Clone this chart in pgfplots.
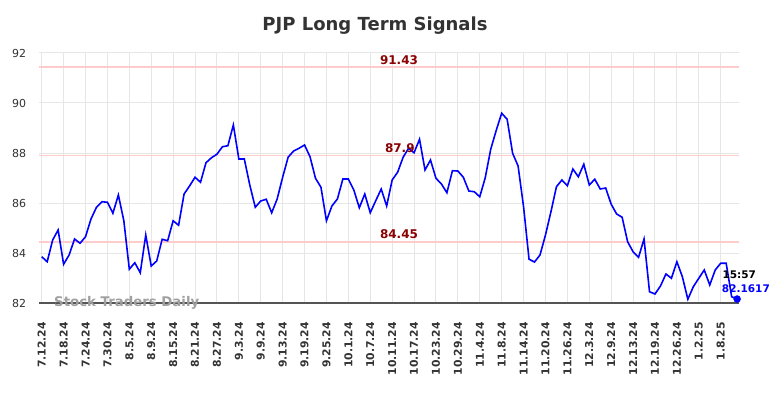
\documentclass[border=0pt]{standalone}
\usepackage{pgfplots}
\pgfplotsset{compat=1.18}
\usepackage{pgfplotstable}
\usepackage{fontspec}
\setmainfont{DejaVu Sans}
\definecolor{titlegray}{HTML}{333333}
\definecolor{gridgray}{HTML}{E6E6E6}
\definecolor{axisgray}{HTML}{555555}
\definecolor{hlinecol}{HTML}{FFCCCC}
\definecolor{darkred}{HTML}{8B0000}
\definecolor{wm}{HTML}{A0A0A0}
\pgfplotstableread{
i v
0 83.85
1 83.65
2 84.52
3 84.92
4 83.55
5 83.92
6 84.56
7 84.39
8 84.65
9 85.36
10 85.83
11 86.05
12 86.03
13 85.59
14 86.32
15 85.29
16 83.35
17 83.61
18 83.21
19 84.72
20 83.48
21 83.68
22 84.55
23 84.49
24 85.29
25 85.11
26 86.36
27 86.68
28 87.03
29 86.83
30 87.61
31 87.81
32 87.95
33 88.25
34 88.29
35 89.12
36 87.76
37 87.76
38 86.72
39 85.83
40 86.08
41 86.15
42 85.61
43 86.16
44 87.03
45 87.83
46 88.08
47 88.19
48 88.32
49 87.85
50 86.99
51 86.63
52 85.29
53 85.88
54 86.16
55 86.96
56 86.96
57 86.52
58 85.81
59 86.36
60 85.61
61 86.09
62 86.56
63 85.88
64 86.92
65 87.23
66 87.83
67 88.19
68 88.01
69 88.55
70 87.32
71 87.72
72 86.99
73 86.76
74 86.41
75 87.29
76 87.28
77 87.03
78 86.48
79 86.45
80 86.25
81 87.01
82 88.15
83 88.90
84 89.59
85 89.35
86 87.99
87 87.48
88 85.85
89 83.75
90 83.64
91 83.92
92 84.72
93 85.65
94 86.65
95 86.92
96 86.69
97 87.36
98 87.05
99 87.55
100 86.72
101 86.95
102 86.56
103 86.60
104 85.95
105 85.56
106 85.43
107 84.45
108 84.05
109 83.83
110 84.56
111 82.45
112 82.36
113 82.68
114 83.16
115 82.99
116 83.65
117 83.05
118 82.15
119 82.65
120 82.99
121 83.32
122 82.72
123 83.32
124 83.59
125 83.59
126 82.25
127 82.16
}\prices
\begin{document}
\begin{tikzpicture}[x=1bp,y=1bp]
\useasboundingbox (0,0) rectangle (784,398);
\fill[white] (0,0) rectangle (784,398);
\node[font=\bfseries\fontsize{18bp}{21bp}\selectfont, text=titlegray] at (375,372) {PJP Long Term Signals};
\begin{axis}[
  at={(39.3bp,95bp)}, anchor=south west,
  scale only axis, width=700bp, height=250bp,
  xmin=-0.44, xmax=127.4, ymin=82, ymax=92,
  clip=false,
  xtick={0,4,...,124},
  xticklabels={7.12.24,7.18.24,7.24.24,7.30.24,8.5.24,8.9.24,8.15.24,8.21.24,8.27.24,9.3.24,9.9.24,9.13.24,9.19.24,9.25.24,10.1.24,10.7.24,10.11.24,10.17.24,10.23.24,10.29.24,11.4.24,11.8.24,11.14.24,11.20.24,11.26.24,12.3.24,12.9.24,12.13.24,12.19.24,12.26.24,1.2.25,1.8.25},
  ytick={82,84,...,92},
  grid=major,
  major grid style={draw=gridgray, line width=1bp},
  major tick length=0pt,
  axis x line*=bottom, axis y line*=left,
  x axis line style={draw=axisgray, line width=1.2bp, -},
  y axis line style={draw=none},
  xticklabel style={yshift=-19bp, rotate=90, anchor=east, inner sep=0pt,
     font=\bfseries\fontsize{10.8bp}{12bp}\selectfont, text=titlegray},
  yticklabel style={xshift=-13bp, anchor=east, inner sep=0pt,
     font=\fontsize{11bp}{13bp}\selectfont, text=titlegray,
     /pgf/number format/assume math mode=true},
]
\addplot[draw=hlinecol, line width=1.6bp] coordinates {(-0.44,91.43) (127.4,91.43)};
\addplot[draw=hlinecol, line width=1.6bp] coordinates {(-0.44,87.9) (127.4,87.9)};
\addplot[draw=hlinecol, line width=1.6bp] coordinates {(-0.44,84.45) (127.4,84.45)};
\node[font=\bfseries\fontsize{13.3bp}{15bp}\selectfont, text=wm, anchor=west, inner sep=0pt] at (axis cs:2.25,82.02) {Stock Traders Daily};
\addplot[blue, line width=1.6bp] table[x=i, y=v] {\prices};
\addplot[only marks, mark=*, blue, mark size=3.5bp] coordinates {(127,82.16)};
\node[font=\bfseries\fontsize{12bp}{14bp}\selectfont, text=darkred] at (axis cs:65.25,91.72) {91.43};
\node[font=\bfseries\fontsize{12bp}{14bp}\selectfont, text=darkred] at (axis cs:65.4,88.2) {87.9};
\node[font=\bfseries\fontsize{12bp}{14bp}\selectfont, text=darkred] at (axis cs:65.25,84.76) {84.45};
\node[font=\bfseries\fontsize{10.5bp}{12bp}\selectfont, text=black, anchor=west, inner sep=0pt] at (axis cs:124.3,83.12) {15:57};
\node[font=\bfseries\fontsize{10.5bp}{12bp}\selectfont, text=blue, anchor=west, inner sep=0pt] at (axis cs:124.2,82.56) {82.1617};
\end{axis}
\end{tikzpicture}
\end{document}
